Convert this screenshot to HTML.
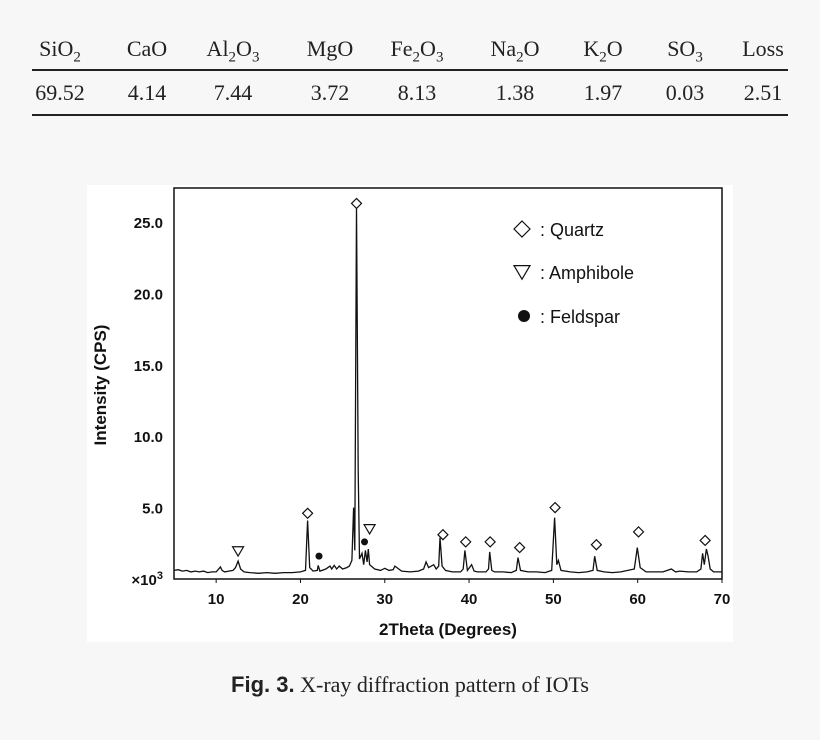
<!DOCTYPE html>
<html><head><meta charset="utf-8"><style>
body{margin:0;width:820px;height:740px;background:#f7f7f7;position:relative;overflow:hidden;font-family:"Liberation Serif",serif;}
.t{position:absolute;font-size:22px;color:#222;transform:translateX(-50%);white-space:nowrap}
.rule{position:absolute;left:32px;width:756px;height:2px;background:#222}
#cap{position:absolute;top:672px;left:0;width:820px;text-align:center;font-size:22px;color:#222}
</style></head><body>
<div>
<div class="rule" style="top:69px"></div>
<div class="rule" style="top:114px"></div>
<div id="tbl"></div>
</div>
<svg id="chart" width="820" height="740" style="position:absolute;left:0;top:0" xmlns="http://www.w3.org/2000/svg"></svg>
<div id="cap"><b style="font-family:'Liberation Sans',sans-serif">Fig. 3.</b> X-ray diffraction pattern of IOTs</div>
<script>
const headers=['SiO<sub>2</sub>','CaO','Al<sub>2</sub>O<sub>3</sub>','MgO','Fe<sub>2</sub>O<sub>3</sub>','Na<sub>2</sub>O','K<sub>2</sub>O','SO<sub>3</sub>','Loss'];
const values=['69.52','4.14','7.44','3.72','8.13','1.38','1.97','0.03','2.51'];
const colX=[60,147,233,330,417,515,603,685,763];
const tbl=document.getElementById('tbl');
headers.forEach((h,i)=>{
 const d=document.createElement('div');d.className='t';d.style.left=colX[i]+'px';d.style.top='36px';d.innerHTML=h.replace(/<sub>/g,'<sub style="font-size:15px">');
 
 
 tbl.appendChild(d);
 const v=document.createElement('div');v.className='t';v.style.left=colX[i]+'px';v.style.top='80px';v.textContent=values[i];
 
 
 tbl.appendChild(v);
});

// XRD data (2theta, intensity x10^3)
const twoTheta=[5,5.5,6,6.5,7,7.5,8,8.5,9,9.5,10,10.5,10.7,11,11.5,12,12.3,12.6,12.9,13.3,14,15,16,17,18,19,20,20.6,20.85,21.1,21.5,22,22.1,22.3,23,23.5,23.7,24,24.3,24.6,25,25.5,25.8,26.1,26.3,26.45,26.65,26.85,27,27.3,27.5,27.7,27.9,28.05,28.2,28.4,28.8,29.5,30,30.5,31,31.2,32,33,34,34.6,34.9,35.2,35.8,36.1,36.4,36.55,36.8,37.2,38,39,39.3,39.5,39.8,40.3,40.6,41,42,42.3,42.45,42.7,43,44,45,45.6,45.8,46.1,47,48,49,49.8,50.15,50.4,50.6,50.9,52,53,54,54.7,54.9,55.2,56,57,58,59.6,59.95,60.3,61,62,63,64,64.5,65,66,67,67.5,67.7,67.9,68.15,68.35,68.6,69,70];
const intensity=[0.6,0.65,0.55,0.6,0.5,0.55,0.5,0.55,0.45,0.5,0.5,0.85,0.6,0.5,0.55,0.6,0.8,1.25,0.7,0.5,0.45,0.4,0.45,0.4,0.45,0.45,0.5,0.6,4.1,0.8,0.55,0.6,0.95,0.55,0.7,0.9,0.7,0.95,0.7,0.9,0.7,0.8,0.9,1.3,5.0,2.0,26.1,7.6,1.4,1.8,1.0,2.0,1.2,2.1,1.0,0.9,0.7,0.6,0.75,0.6,0.65,0.9,0.55,0.5,0.55,0.7,1.2,0.8,1.0,0.7,0.9,2.9,0.9,0.6,0.5,0.5,0.7,2.0,0.6,1.0,0.55,0.5,0.5,0.7,1.9,0.6,0.5,0.5,0.45,0.6,1.5,0.6,0.5,0.5,0.45,0.6,4.3,1.0,1.3,0.6,0.5,0.45,0.5,0.6,1.6,0.6,0.5,0.45,0.5,0.7,2.2,0.8,0.5,0.5,0.5,0.7,0.5,0.55,0.5,0.5,0.7,1.8,1.0,2.1,1.6,0.7,0.5,0.5];
const quartzX=[26.65,20.85,36.9,39.6,42.5,46,50.2,55.1,60.1,68];
const quartzY=[26.3,4.6,3.1,2.6,2.6,2.2,5.0,2.4,3.3,2.7];
const amphX=[12.6,28.2];const amphY=[1.95,3.5];
const feldX=[22.2,27.6];const feldY=[1.6,2.6];
const xTicks=[10,20,30,40,50,60,70];
const yTicks=[5,10,15,20,25];
const yTickLabels=['5.0','10.0','15.0','20.0','25.0'];

const L=174,R=722,T=188,B=579;
const xs=v=>L+(v-5)*(R-L)/65;
const ys=v=>B-v*14.28;
const svg=document.getElementById('chart');const NS='http://www.w3.org/2000/svg';
function mk(tag,attrs,name){const e=document.createElementNS(NS,tag);for(const k in attrs)e.setAttribute(k,attrs[k]);
 
 
 svg.appendChild(e);return e;}
mk('rect',{x:87,y:185,width:646,height:457,fill:'#fff'},'chart-background');
mk('rect',{x:L,y:T,width:R-L,height:B-T,fill:'none',stroke:'#111','stroke-width':1.5},'plot-frame');
let pts=twoTheta.map((t,i)=>xs(t).toFixed(1)+','+ys(intensity[i]).toFixed(1)).join(' ');
mk('polyline',{points:pts,fill:'none',stroke:'#111','stroke-width':1.3},'xrd-pattern-line');
const lab={'font-family':'Liberation Sans, sans-serif','font-weight':'bold','font-size':15,fill:'#111'};
xTicks.forEach(v=>{mk('line',{x1:xs(v),x2:xs(v),y1:B,y2:B+4,stroke:'#111'},'x-tick');
 const t=mk('text',Object.assign({x:xs(v),y:B+25,'text-anchor':'middle'},lab),'x-tick-label');t.textContent=v;});
yTicks.forEach((v,i)=>{const t=mk('text',Object.assign({x:163,y:ys(v)+6,'text-anchor':'end'},lab),'y-tick-label');t.textContent=yTickLabels[i];});
const t0=mk('text',Object.assign({x:163,y:B+6,'text-anchor':'end'},lab),'y-scale-label');t0.innerHTML='×10<tspan dy="-6" font-size="11">3</tspan>';
const xt=mk('text',Object.assign({},lab,{x:448,y:635,'text-anchor':'middle','font-size':17}),'x-axis-title');xt.textContent='2Theta (Degrees)';
const yt=mk('text',Object.assign({},lab,{x:0,y:0,'text-anchor':'middle','font-size':17,transform:'translate(106,385) rotate(-90)'}),'y-axis-title');yt.textContent='Intensity (CPS)';
function diamond(x,y,s,name){mk('polygon',{points:`${x},${y-s} ${x+s},${y} ${x},${y+s} ${x-s},${y}`,fill:'#fff',stroke:'#111','stroke-width':1.2},name);}
function tri(x,y,s,name){mk('polygon',{points:`${x-s},${y-s*0.8} ${x+s},${y-s*0.8} ${x},${y+s*0.9}`,fill:'#fff',stroke:'#111','stroke-width':1.2},name);}
quartzX.forEach((v,i)=>diamond(xs(v),ys(quartzY[i]),5,'quartz-marker'));
amphX.forEach((v,i)=>tri(xs(v),ys(amphY[i]),5.5,'amphibole-marker'));
feldX.forEach((v,i)=>mk('circle',{cx:xs(v),cy:ys(feldY[i]),r:3.5,fill:'#111'},'feldspar-marker'));
diamond(522,229,8,'legend-quartz-symbol');tri(522,272,8,'legend-amphibole-symbol');
mk('circle',{cx:524,cy:316,r:6,fill:'#111'},'legend-feldspar-symbol');
const lt={'font-family':'Liberation Sans, sans-serif','font-size':18,fill:'#111'};
[['：Quartz',236,'legend-quartz'],['：Amphibole',279,'legend-amphibole'],['：Feldspar',323,'legend-feldspar']].forEach(a=>{
 const t=mk('text',Object.assign({x:540,y:a[1]},lt),a[2]);t.textContent=a[0].replace('：',': ');});
</script>
</body></html>
